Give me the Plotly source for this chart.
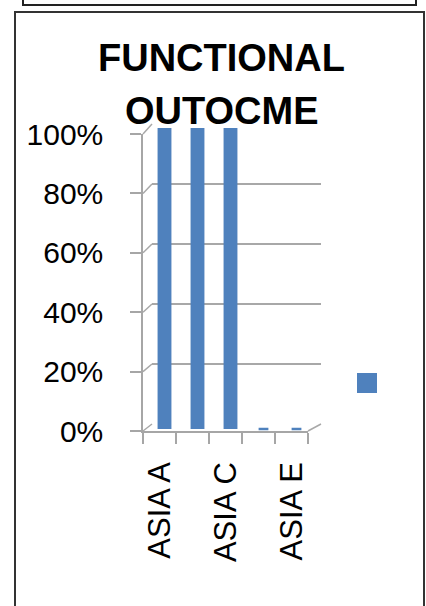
import plotly.graph_objects as go

# Chart data
categories = ["ASIA A", "ASIA B", "ASIA C", "ASIA D", "ASIA E"]
outcome_pct = [100, 100, 100, 0, 0]
tick_vals_y = [0, 20, 40, 60, 80, 100]
tick_text_y = ["0%", "20%", "40%", "60%", "80%", "100%"]
tick_text_x = ["ASIA A", "", "ASIA C", "", "ASIA E"]
title_lines = ["FUNCTIONAL", "OUTOCME"]

W, H = 426, 606
BAR_BLUE = "#4F81BD"
GRID_GRAY = "#A8A8A8"
AXIS_GRAY = "#A6A6A6"
FONT = "Liberation Sans"

# pixel boxes of the pseudo-3D plot: front face, back wall, mid depth
FRONT = dict(x0=143, x1=308, y_bottom=431, y_top=134)
BACK = dict(x0=152, x1=321, y_bottom=424, y_top=124)
MID = dict(x0=148, x1=313, y_bottom=429, y_top=128)
CAT_RANGE = [-0.5, len(categories) - 0.5]


def fx(px):
    return px / W


def fy(px):
    return 1 - px / H


def val_to_px(box, v):
    return box["y_bottom"] - (box["y_bottom"] - box["y_top"]) * v / 100.0


fig = go.Figure()

# Columns, drawn at mid depth of the pseudo-3D box
fig.add_trace(go.Bar(
    x=categories, y=outcome_pct, xaxis="x3", yaxis="y3",
    marker=dict(color=BAR_BLUE, line=dict(width=0)),
    width=0.42, showlegend=False, hoverinfo="skip",
))

# Zero-height columns show only as a flat top face on the floor
zero_cats = [c for c, v in zip(categories, outcome_pct) if v == 0]
zero_vals = [v for v in outcome_pct if v == 0]
fig.add_trace(go.Scatter(
    x=zero_cats, y=zero_vals, xaxis="x3", yaxis="y3", mode="markers",
    marker=dict(symbol="line-ew", size=7, line=dict(width=2.5, color=BAR_BLUE)),
    showlegend=False, hoverinfo="skip", cliponaxis=False,
))

# Back wall subplot needs a trace so its gridlines get drawn
fig.add_trace(go.Scatter(
    x=categories, y=outcome_pct, xaxis="x2", yaxis="y2", mode="none",
    showlegend=False, hoverinfo="skip",
))

# Legend key (series has no name)
fig.add_trace(go.Scatter(
    x=[None], y=[None], mode="markers", name=" ",
    marker=dict(symbol="square", size=16, color=BAR_BLUE,
                line=dict(width=4, color=BAR_BLUE)),
    showlegend=True,
))

common_cat = dict(type="category", categoryorder="array", categoryarray=categories,
                  range=CAT_RANGE, fixedrange=True, automargin=False)

# Depth edges: side-wall diagonals from each front tick to its back gridline,
# plus the right edge of the floor
depth_lines = []
for v in tick_vals_y:
    depth_lines.append(dict(
        type="line", xref="paper", yref="paper",
        x0=fx(FRONT["x0"]), y0=fy(val_to_px(FRONT, v)),
        x1=fx(BACK["x0"]), y1=fy(val_to_px(BACK, v)),
        line=dict(color=GRID_GRAY, width=1.5),
    ))
depth_lines.append(dict(
    type="line", xref="paper", yref="paper",
    x0=fx(FRONT["x1"]), y0=fy(val_to_px(FRONT, 0)),
    x1=fx(BACK["x1"]), y1=fy(val_to_px(BACK, 0)),
    line=dict(color=GRID_GRAY, width=1.5),
))

frames = [
    # outer frame above the chart
    dict(type="rect", xref="paper", yref="paper",
         x0=fx(23), x1=fx(416), y0=fy(5), y1=1.05,
         line=dict(color="#222222", width=2), fillcolor="rgba(0,0,0,0)"),
    # chart frame
    dict(type="rect", xref="paper", yref="paper",
         x0=fx(15), x1=fx(424), y0=-0.05, y1=fy(12),
         line=dict(color="#333333", width=2), fillcolor="rgba(0,0,0,0)"),
]

fig.update_layout(
    width=W, height=H,
    margin=dict(l=0, r=0, t=0, b=0, autoexpand=False),
    paper_bgcolor="white", plot_bgcolor="rgba(0,0,0,0)",
    font=dict(family=FONT, color="black"),
    # front axes: labels and ticks
    xaxis=dict(
        common_cat,
        domain=[fx(FRONT["x0"]), fx(FRONT["x1"])], anchor="y",
        tickmode="array", tickvals=categories, ticktext=tick_text_x,
        tickson="boundaries", ticks="outside", ticklen=11, tickwidth=1.5,
        tickcolor=AXIS_GRAY, tickangle=-90, ticklabelstandoff=17,
        tickfont=dict(family=FONT, size=31, color="black"),
        showline=True, linecolor=AXIS_GRAY, linewidth=1.5,
        showgrid=False, zeroline=False,
    ),
    yaxis=dict(
        domain=[fy(FRONT["y_bottom"]), fy(FRONT["y_top"])], anchor="x", range=[0, 100],
        tickmode="array", tickvals=tick_vals_y, ticktext=tick_text_y,
        ticks="outside", ticklen=11, tickwidth=1.5, tickcolor=AXIS_GRAY,
        ticklabelstandoff=21,
        tickfont=dict(family=FONT, size=30, color="black"),
        showline=True, linecolor=AXIS_GRAY, linewidth=1.5,
        showgrid=False, zeroline=False, fixedrange=True, automargin=False,
    ),
    # back wall: gridlines only
    xaxis2=dict(
        common_cat,
        domain=[fx(BACK["x0"]), fx(BACK["x1"])], anchor="y2",
        showticklabels=False, showgrid=False, zeroline=False, showline=False,
    ),
    yaxis2=dict(
        domain=[fy(BACK["y_bottom"]), fy(BACK["y_top"])], anchor="x2", range=[0, 100],
        tickmode="array", tickvals=tick_vals_y, showticklabels=False,
        showgrid=True, gridcolor=GRID_GRAY, gridwidth=1.5,
        zeroline=False, showline=False, fixedrange=True, automargin=False,
    ),
    # mid depth: columns
    xaxis3=dict(
        common_cat,
        domain=[fx(MID["x0"]), fx(MID["x1"])], anchor="y3",
        showticklabels=False, showgrid=False, zeroline=False, showline=False,
    ),
    yaxis3=dict(
        domain=[fy(MID["y_bottom"]), fy(MID["y_top"])], anchor="x3", range=[0, 100],
        showticklabels=False, showgrid=False, zeroline=False, showline=False,
        fixedrange=True, automargin=False,
    ),
    legend=dict(
        x=fx(347), y=fy(383), xanchor="left", yanchor="middle",
        bgcolor="rgba(0,0,0,0)", itemsizing="trace",
        font=dict(size=12),
    ),
    shapes=frames + depth_lines,
    annotations=[
        dict(text="<b>%s</b>" % line, xref="paper", yref="paper",
             x=fx(221.5), y=fy(yc), xanchor="center", yanchor="middle",
             showarrow=False, font=dict(family=FONT, size=38, color="black"))
        for line, yc in zip(title_lines, [58, 111])
    ],
)

fig.write_html("out.html")
